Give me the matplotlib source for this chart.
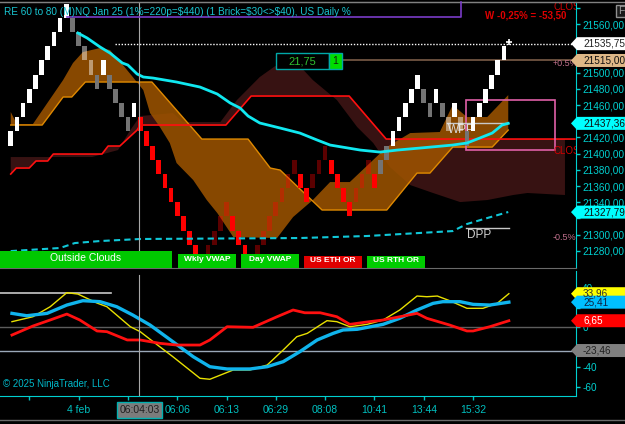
import numpy as np
import matplotlib

matplotlib.use("Agg")
import matplotlib.pyplot as plt
from matplotlib.patches import Rectangle, Polygon
from matplotlib.lines import Line2D
from matplotlib.ticker import FixedLocator, FuncFormatter
from matplotlib.transforms import IdentityTransform

plt.rcParams["font.family"] = ["Liberation Sans", "DejaVu Sans"]

# ---- renko bricks (top price of each brick) ----
BRICK = 17.5
brick_top = [
    21427.5, 21445.0, 21462.5, 21480.0, 21497.5, 21515.0, 21532.5, 21550.0, 21567.5, 21585.0,
    21567.5, 21550.0, 21532.5, 21515.0, 21497.5,
    21515.0,
    21497.5, 21480.0, 21462.5, 21445.0,
    21462.5,
    21445.0, 21427.5, 21410.0, 21392.5, 21375.0, 21357.5, 21340.0, 21322.5, 21305.0, 21287.5, 21270.0,
    21287.5, 21305.0, 21322.5, 21340.0,
    21322.5, 21305.0, 21287.5, 21270.0,
    21287.5, 21305.0, 21322.5, 21340.0, 21357.5, 21375.0, 21392.5,
    21375.0, 21357.5,
    21375.0, 21392.5, 21410.0,
    21392.5, 21375.0, 21357.5, 21340.0,
    21357.5, 21375.0, 21392.5,
    21375.0,
    21392.5, 21410.0,
    21427.5, 21445.0, 21462.5, 21480.0, 21497.5,
    21480.0, 21462.5,
    21480.0,
    21462.5, 21445.0,
    21462.5,
    21445.0, 21427.5,
    21445.0, 21462.5, 21480.0, 21497.5, 21515.0, 21532.5,
]
# W white up, G gray down, L faded, R red down, D dark red up
brick_kind = ("WWWWWWWWWW" "GGLLG" "W" "GGGG" "W" "RRRRRRRRRRR" "DDDD" "RRRR"
              "DDDDDDD" "RR" "DDD" "RRRR" "DDD" "R" "GG" "WWWWW" "GG" "W" "GL" "W" "LG"
              "WWWWWW")
BRICK_STYLE = {"W": ("#ffffff", 1.0), "G": ("#747474", 1.0), "L": ("#ffffff", 0.45),
               "R": ("#ff0000", 1.0), "D": ("#ff0000", 0.36)}

# ---- cloud / indicator lines (x = bar index, y = price) ----
red_x = [0.0, 0.9, 3.0, 4.1, 6.0, 6.9, 14.8, 15.8, 17.7, 20.5, 21.0, 34.9, 39.0, 54.9, 60.9, 91.5]
red_p = [21374.8, 21382.2, 21382.2, 21390.9, 21390.9, 21399.5, 21399.5, 21409.4, 21409.4,
         21429.1, 21435.3, 21435.3, 21471.1, 21471.1, 21418.0, 21418.0]

cloud_x = [0.0, 5.2, 13.2, 17.4, 19.4, 21.0, 26.3, 27.9, 34.0, 36.7, 40.4, 42.9, 46.9, 49.0,
           52.9, 56.2, 58.8, 61.5, 64.8, 68.5, 72.9, 77.3, 81.5, 83.8, 89.9]
cloud_p = [21395.8, 21395.8, 21395.8, 21404.4, 21429.1, 21446.4, 21450.1, 21439.0, 21439.0,
           21466.2, 21494.6, 21508.1, 21508.1, 21490.9, 21466.2, 21432.8, 21413.1, 21383.5,
           21361.2, 21351.4, 21340.2, 21342.7, 21348.9, 21351.4, 21348.9]

org_x = [0.0, 5.1, 8.5, 9.9, 12.1, 22.9, 31.0, 38.5, 42.1, 43.7, 50.5, 61.0, 65.9, 68.0,
         71.7, 78.1, 80.7]
org_p = [21435.3, 21435.3, 21469.9, 21469.9, 21488.4, 21488.4, 21418.0, 21418.0, 21382.2,
         21379.7, 21330.4, 21330.4, 21376.0, 21376.0, 21408.1, 21408.1, 21429.1]

orgb_x = [0.0, 1.0, 3.6, 8.5, 10.1, 11.7, 14.5, 16.1, 17.2, 18.2, 19.8, 21.5, 22.6, 24.2,
          25.8, 26.9, 29.6, 31.8, 33.5, 36.1, 43.2, 45.8, 49.0, 51.8, 55.0, 61.0, 64.8,
          69.6, 71.7, 74.0, 77.3, 80.7]
orgb_p = [21451.4, 21436.5, 21436.5, 21490.9, 21511.9, 21525.4, 21530.4, 21527.9, 21518.0,
          21509.4, 21494.6, 21478.5, 21450.1, 21432.8, 21413.1, 21388.4, 21367.4, 21342.7,
          21326.7, 21297.0, 21295.8, 21321.7, 21342.7, 21364.9, 21364.9, 21408.1, 21425.4,
          21426.7, 21460.0, 21445.2, 21445.2, 21472.3]

cyan_x = [10.9, 12.4, 14.5, 16.1, 18.1, 19.0, 20.5, 21.5, 23.1, 26.9, 30.7, 33.5, 35.6, 37.2,
          38.5, 40.4, 43.7, 46.9, 49.7, 51.8, 56.7, 59.9, 62.7, 66.4, 71.7, 74.0, 76.1, 78.1,
          79.7, 80.7]
cyan_p = [21548.9, 21542.7, 21531.6, 21524.2, 21511.9, 21509.4, 21498.3, 21494.6, 21493.3,
          21488.4, 21482.2, 21473.6, 21462.5, 21456.3, 21446.4, 21437.8, 21431.6, 21425.4,
          21416.8, 21410.6, 21404.4, 21401.9, 21404.4, 21406.9, 21410.6, 21413.1, 21419.3,
          21425.4, 21435.3, 21437.4]

vwap_x = [0.0, 8.0, 10.4, 14.5, 21.0, 46.9, 57.8, 71.7, 74.0, 77.3, 80.7]
vwap_p = [21279.7, 21283.5, 21289.6, 21292.1, 21294.6, 21295.8, 21298.3, 21304.4, 21313.1,
          21320.5, 21327.9]

# ---- oscillator panel ----
yel_x = [0.2, 3.6, 6.4, 9.1, 10.9, 14.0, 15.6, 19.4, 21.0, 23.1, 26.3, 30.7, 32.3, 36.1, 38.8,
         41.6, 44.2, 46.4, 48.1, 50.2, 51.3, 52.9, 55.0, 57.8, 60.4, 63.1, 65.9, 67.5, 69.2,
         71.2, 74.0, 76.6, 78.9, 80.8]
yel_v = [5.7, 10.7, 20.8, 35.0, 33.6, 24.5, 20.8, 0.6, -4.4, -14.5, -29.7, -51.5, -52.5, -43.1,
         -43.1, -38.1, -22.9, -9.5, -6.1, 2.3, 6.7, 5.7, 0.6, 3.0, 7.4, 17.5, 31.6, 30.9, 31.6,
         26.9, 19.2, 19.2, 24.2, 34.0]
blu_x = [0.2, 2.6, 5.9, 9.1, 11.7, 14.5, 17.2, 19.8, 22.6, 26.3, 29.6, 32.3, 35.1, 38.8, 41.6,
         44.2, 46.9, 49.7, 52.3, 53.9, 56.2, 60.4, 63.1, 65.9, 68.5, 70.1, 72.9, 75.0, 77.7, 80.8]
blu_v = [14.1, 11.7, 14.1, 22.5, 26.9, 25.9, 20.8, 12.4, 2.3, -14.5, -29.7, -39.8, -42.1, -42.1,
         -39.8, -34.7, -24.6, -12.8, -6.1, -2.7, -2.0, 3.0, 9.1, 17.5, 24.2, 25.9, 25.9, 23.2,
         22.5, 25.41]
rd_x = [0.2, 3.6, 6.4, 9.1, 11.2, 14.0, 15.6, 18.9, 21.0, 24.2, 26.9, 30.7, 32.3, 35.1, 39.3,
        43.2, 45.8, 47.7, 50.2, 52.9, 55.0, 57.8, 60.4, 63.1, 65.9, 67.5, 71.2, 74.0, 75.0,
        77.7, 80.8]
rd_v = [-7.8, 1.3, 7.4, 13.4, 7.4, -3.7, -4.4, -12.8, -12.8, -16.2, -17.9, -17.9, -12.8, 0.6,
        0.0, 10.7, 17.5, 14.7, 14.7, 10.7, 3.0, 5.4, 7.4, 10.7, 14.1, 9.1, 2.3, -3.7, -3.7,
        0.6, 6.65]

time_ticks = [3, 11, 19, 27, 35, 43, 51, 59, 67, 75]
time_labels = ["", "4 feb", "", "06:06", "06:13", "06:29", "08:08", "10:41", "13:44", "15:32"]

# tick labels that sit behind the value badges in the reference
hidden_price_labels = [21540, 21520, 21440, 21320, 21580]
hidden_osc_labels = [20, -20]

last_price = 21535.75
plus_half = 21515.00
cursor_x = 20.8
cursor_v = -23.46
price_badges = [(21535.75, "#ffffff", "#202020"), (21515.00, "#deb887", "#101010"),
                (21437.36, "#00ffff", "#101010"), (21327.79, "#00ffff", "#101010")]
osc_badges = [(33.96, "#ffff00", "#303030"), (25.41, "#00bfff", "#102040"),
              (6.65, "#ff0000", "#ffffff"), (-23.46, "#808080", "#202020")]

CYAN = "#00d0d0"
W, H = 625, 424


def fx(px):
    return px / W


def fy(py):
    return 1 - py / H


fig = plt.figure(figsize=(6.25, 4.24), dpi=100, facecolor="black")
ax = fig.add_axes([0, fy(268), fx(576), 266 / H], facecolor="black")
ax2 = fig.add_axes([0, fy(396), fx(576), 125 / H], facecolor="black", sharex=ax)

ax.set_xlim(-1.74, 91.69)
ax.set_ylim(21258.8, 21587.2)
ax2.set_ylim(-69.4, 56.9)

# clouds
ax.fill(list(np.minimum(red_x, cloud_x[-1])) + cloud_x[::-1], red_p + cloud_p[::-1],
        color="#371212", lw=0, zorder=1)
ax.fill(org_x + orgb_x[::-1], org_p + orgb_p[::-1], color="#a05500", alpha=0.85, lw=0, zorder=2)
ax.plot(org_x, org_p, color="#e08a00", lw=1, zorder=3)
ax.plot(red_x, red_p, color="#ff1010", lw=1.2, zorder=3)

# reference levels / boxes
ax.plot([16.9, 91.7], [last_price, last_price], color="white", ls=(0, (1, 1.2)), lw=1, zorder=3)
ax.plot([53.7, 91.7], [plus_half, plus_half], color="#7a5c48", lw=1.2, zorder=3)
ax.add_patch(Rectangle((73.8, 21404.4), 14.5, 61.8, fill=False, ec="#e060a8", lw=1.2, zorder=3))
ax.plot([70.8, 80.7], [21438.2, 21438.2], color="#c8c8c8", lw=1, zorder=3)
ax.text(70.9, 21436.0, "WPP", color="#d8d8d8", fontsize=8.5, va="top", ha="left", zorder=3)
ax.plot([73.9, 80.8], [21308.1, 21308.1], color="#c8c8c8", lw=1, zorder=3)
ax.text(74.0, 21306.5, "DPP", color="#d0d0d0", fontsize=8.5, va="top", ha="left", zorder=3)

# bricks
for i, (top, kind) in enumerate(zip(brick_top, brick_kind)):
    fc, a = BRICK_STYLE[kind]
    ax.add_patch(Rectangle((i - 0.38, top - BRICK), 0.76, BRICK, fc=fc, alpha=a, ec="none", zorder=4))

ax.plot(cyan_x, cyan_p, color="#10e8f0", lw=2, zorder=5)
ax.plot(vwap_x, vwap_p, color="#10c8d8", lw=1.5, ls=(0, (3, 2)), zorder=5)
ax.plot([80.8], [last_price + 2], marker="+", color="white", ms=4, mew=1.2, zorder=6)

ax.axvline(cursor_x, color="#a8a8a8", lw=0.8, zorder=6)
ax2.axvline(cursor_x, ymax=0.97, color="#a8a8a8", lw=0.8, zorder=6)

# small texts inside price panel
for py, txt in [(63, "+0.5%"), (238, "-0.5%")]:
    ax.text(fx(553) / fx(576), (268 - py) / 266, txt, transform=ax.transAxes, color="#c0708c",
            fontsize=6.5, va="center", ha="left", clip_on=True, zorder=6)
for py in [7, 151]:
    ax.text(fx(553) / fx(576), (268 - py) / 266, "CLOS", transform=ax.transAxes, color="#d00000",
            fontsize=7, va="center", ha="left", clip_on=True, zorder=6)

# price axis
ax.yaxis.tick_right()
ax.yaxis.set_major_locator(FixedLocator(np.arange(21280, 21600, 20)))
ax.yaxis.set_major_formatter(FuncFormatter(
    lambda v, p: "" if round(v) in hidden_price_labels else f"{v:.2f}".replace(".", ",")))
ax.tick_params(axis="y", colors=CYAN, labelsize=7.2, length=3, width=1, pad=1.5)
ax.tick_params(axis="x", bottom=False, labelbottom=False)
ax.spines["left"].set_visible(False)
ax.spines["top"].set_color("#808080")
ax.spines["bottom"].set_color("#6a6a6a")
ax.spines["right"].set_color(CYAN)

# oscillator panel
ax2.axhline(0, color="#5c5c5c", lw=1, zorder=1)
ax2.axhline(cursor_v, color="#9aa8b8", lw=1, zorder=1)
ax2.plot([-1.74, 16.3], [34.6, 34.6], color="#c8c8c8", lw=1.2, zorder=2)
ax2.plot(yel_x, yel_v, color="#e8e000", lw=1, zorder=3)
ax2.plot(blu_x, blu_v, color="#10b4ec", lw=2.4, zorder=4)
ax2.plot(rd_x, rd_v, color="#ff1010", lw=2, zorder=5)

ax2.yaxis.tick_right()
ax2.yaxis.set_major_locator(FixedLocator([-60, -40, -20, 0, 20, 40]))
ax2.yaxis.set_major_formatter(FuncFormatter(
    lambda v, p: "" if round(v) in hidden_osc_labels else f"{v:.0f}"))
ax2.tick_params(axis="y", colors=CYAN, labelsize=7.2, length=3, width=1, pad=1.5)
ax2.set_xticks(time_ticks)
ax2.set_xticklabels(time_labels)
ax2.tick_params(axis="x", colors="#00c0c0", labelsize=7.5, length=3, width=1, pad=3.5)
ax2.spines["left"].set_visible(False)
ax2.spines["top"].set_visible(False)
ax2.spines["right"].set_color(CYAN)
ax2.spines["bottom"].set_color(CYAN)

# frame lines
fig.add_artist(Line2D([0, 1], [fy(1.5), fy(1.5)], color="#808080", lw=1))
fig.add_artist(Line2D([0, 1], [fy(419.5), fy(419.5)], color="#6a6a6a", lw=1))
fig.add_artist(Line2D([fx(67), fx(461), fx(461)], [fy(17), fy(17), fy(2)], color="#7a3cc8", lw=1.2))

# header texts
fig.text(fx(4), fy(12), "RE 60 to 80 (M)NQ Jan 25 (1%=220p=$440) (1 Brick=$30<>$40), US Daily %",
         color="#18c4d0", fontsize=7.2, va="center", ha="left")
fig.text(fx(485), fy(15), "W -0,25% = -53,50", color="#e00000", fontsize=7,
         fontweight="bold", va="center", ha="left")
fig.add_artist(Rectangle((fx(616), fy(17)), fx(12), 12 / H, fc="#1a1a1a", ec="#909090", lw=1))
fig.text(fx(618), fy(11), "F", color="#a0a0a0", fontsize=7.5, va="center", ha="left")

# 21,75 box
fig.add_artist(Rectangle((fx(276), fy(69)), fx(53), 16 / H, fc="black", ec="#00a8a8", lw=1))
fig.text(fx(302.5), fy(61), "21,75", color="#30c030", fontsize=8, va="center", ha="center")
fig.add_artist(Rectangle((fx(329), fy(69)), fx(13), 16 / H, fc="#00dd00", ec="#00a8a8", lw=1))
fig.text(fx(335.5), fy(61), "1", color="#102010", fontsize=7.5, va="center", ha="center")

# label tags at the bottom of the price panel
tags = [("Outside Clouds", 0, 172, 251, "#00c800", 7.5, "normal"),
        ("Wkly VWAP", 178, 236, 254, "#00cc00", 6, "bold"),
        ("Day VWAP", 241, 299, 254, "#00cc00", 6, "bold"),
        ("US ETH OR", 304, 362, 256, "#e00000", 6, "bold"),
        ("US RTH OR", 367, 425, 256, "#00cc00", 6, "bold")]
for txt, x0, x1, y0, col, fs, fw in tags:
    fig.add_artist(Rectangle((fx(x0), fy(267.5)), fx(x1 - x0), (267.5 - y0) / H, fc=col, ec="none"))
    fig.text(fx((x0 + x1) / 2), fy((y0 + 267.5) / 2 - 1), txt, color="white", fontsize=fs,
             fontweight=fw, va="center", ha="center")

fig.text(fx(3), fy(384), "\u00a9 2025 NinjaTrader, LLC", color="#00b8c8", fontsize=7,
         va="center", ha="left")
fig.text(fx(139.5), fy(410), "06:04:03", color="#202020", fontsize=7.5, va="center", ha="center",
         bbox=dict(boxstyle="square,pad=0.25", fc="#7c7c7c", ec="#00b0b0", lw=1))


# value badges on the right axis
def badge(axis, value, label, fc, tc):
    y = axis.transData.transform((0, value))[1]
    pts = [(571, y), (577, y + 6.5), (625, y + 6.5), (625, y - 6.5), (577, y - 6.5)]
    fig.add_artist(Polygon(pts, closed=True, fc=fc, ec="none", transform=IdentityTransform(), zorder=5))
    fig.text(fx(583), y / H, label, color=tc, fontsize=7.2, va="center", ha="left", zorder=6)


for val, fc, tc in price_badges:
    badge(ax, val, f"{val:.2f}".replace(".", ","), fc, tc)
for val, fc, tc in osc_badges:
    badge(ax2, val, f"{val:.2f}".replace(".", ","), fc, tc)

fig.savefig("out.png", dpi=100, facecolor="black")
